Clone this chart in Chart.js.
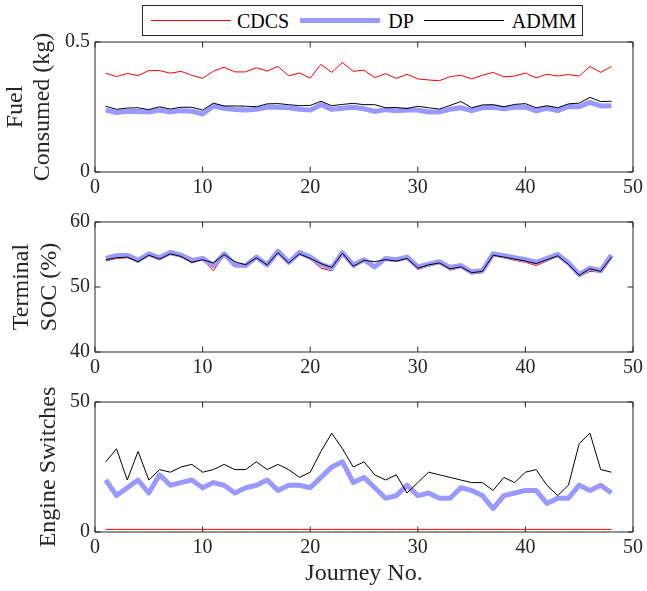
<!DOCTYPE html>
<html>
<head>
<meta charset="utf-8">
<script src="https://cdn.jsdelivr.net/npm/chart.js@4.4.1/dist/chart.umd.min.js"></script>
<style>
  body { margin: 0; background: #fff; width: 647px; height: 591px; position: relative; overflow: hidden;
         font-family: 'Liberation Serif', serif; }
  canvas { position: absolute; left: 0; }
  #legend { position: absolute; left: 142px; top: 5px; width: 439px; height: 29px; border: 1px solid #262626;
            display: flex; align-items: center; font-size: 20px; color: #000; box-sizing: content-box; }
  #legend .ln { display: inline-block; width: 80px; }
  #legend span.tx { line-height: 20px; }
</style>
</head>
<body>
<div id="legend">
  <span class="ln" style="margin-left:8px;height:1px;background:#ff0000"></span>
  <span class="tx" style="margin-left:6px">CDCS</span>
  <span class="ln" style="margin-left:11px;height:5px;background:rgb(153,153,255)"></span>
  <span class="tx" style="margin-left:8px">DP</span>
  <span class="ln" style="margin-left:10px;height:1px;background:#000"></span>
  <span class="tx" style="margin-left:8px">ADMM</span>
</div>
<canvas id="fuel" width="647" height="200" style="top:0"></canvas>
<canvas id="soc" width="647" height="180" style="top:200px"></canvas>
<canvas id="sw" width="647" height="211" style="top:380px"></canvas>
<script>
var journeys = [];
for (var i = 1; i <= 48; i++) journeys.push(i);

// fuel consumed (kg)
var fuelCDCS = [0.380,0.367,0.379,0.371,0.390,0.390,0.380,0.387,0.372,0.360,0.388,0.403,0.385,0.385,0.401,0.388,
                0.406,0.370,0.381,0.361,0.414,0.383,0.421,0.387,0.392,0.363,0.378,0.360,0.376,0.358,0.354,0.351,
                0.367,0.372,0.358,0.372,0.383,0.366,0.369,0.381,0.362,0.376,0.369,0.375,0.369,0.406,0.383,0.406];
var fuelDP   = [0.238,0.229,0.234,0.233,0.231,0.238,0.231,0.236,0.234,0.223,0.254,0.245,0.240,0.238,0.241,0.249,
                0.249,0.247,0.241,0.238,0.259,0.241,0.245,0.249,0.243,0.233,0.240,0.236,0.238,0.238,0.231,0.231,
                0.241,0.247,0.236,0.247,0.249,0.243,0.249,0.250,0.235,0.245,0.236,0.252,0.251,0.268,0.254,0.255];
var fuelADMM = [0.253,0.241,0.246,0.247,0.240,0.251,0.242,0.249,0.249,0.238,0.265,0.254,0.254,0.253,0.251,0.262,
                0.263,0.259,0.255,0.256,0.272,0.255,0.260,0.264,0.259,0.259,0.247,0.248,0.244,0.253,0.247,0.242,
                0.256,0.271,0.247,0.258,0.259,0.251,0.260,0.263,0.247,0.255,0.247,0.262,0.265,0.287,0.271,0.272];

// terminal SOC (%)
var socCDCS = [54.0,54.4,54.5,53.8,54.8,54.2,55.0,54.6,53.7,54.2,52.5,54.9,53.1,53.2,54.5,53.3,
               55.2,53.6,55.0,54.3,52.9,52.5,55.1,53.0,54.0,53.1,54.2,53.9,54.3,52.7,53.2,53.6,
               52.6,53.0,52.0,52.2,54.8,54.5,54.1,53.8,53.3,54.0,54.7,53.4,51.6,52.4,52.3,54.5];
var socDP   = [54.4,54.8,54.9,54.1,55.1,54.5,55.3,54.9,54.1,54.4,53.3,55.1,53.4,53.3,54.6,53.4,
               55.5,53.8,55.3,54.6,53.5,52.9,55.3,53.4,54.2,53.1,54.4,54.2,54.6,53.1,53.5,53.9,
               53.0,53.3,52.3,52.5,55.1,54.8,54.5,54.2,53.8,54.4,55.0,53.7,51.9,52.9,52.5,54.9];
var socADMM = [54.2,54.5,54.6,53.9,54.9,54.3,55.1,54.7,53.8,54.2,53.7,55.0,53.9,53.4,54.5,53.4,
               55.3,53.7,55.1,54.4,53.6,53.0,55.2,53.2,54.1,53.9,54.2,54.0,54.4,52.9,53.4,53.7,
               52.8,53.1,52.2,52.4,54.9,54.6,54.3,54.0,53.6,54.2,54.8,53.5,51.8,52.8,52.4,54.6];

// engine switches
var swCDCS = [1,1,1,1,1,1,1,1,1,1,1,1,1,1,1,1,1,1,1,1,1,1,1,1,1,1,1,1,1,1,1,1,1,1,1,1,1,1,1,1,1,1,1,1,1,1,1,1];
var swDP   = [20,14,17,20,15,22,18,19,20,17,19,18,15,17,18,20,16,18,18,17,21,25,27,19,
              21,17,13,14,18,14,15,13,13,17,16,14,9,14,15,16,16,11,13,13,18,16,18,15];
var swADMM = [27,32,20,31,20,24,23,25,26,23,24,26,24,24,27,24,26,24,21,23,31,38,32,25,
              27,22,20,22,15,19,23,22,21,20,19,19,16,21,19,23,24,18,14,18,34,38,24,23];

Chart.defaults.font.family = "'Liberation Serif', serif";
Chart.defaults.color = '#262626';

// matlab style box with inward ticks
var boxTicks = {
  id: 'boxTicks',
  afterDatasetsDraw: function(chart) {
    var ctx = chart.ctx, a = chart.chartArea, x = chart.scales.x, y = chart.scales.y;
    var tl = 5.4;
    ctx.save();
    ctx.strokeStyle = '#262626';
    ctx.lineWidth = 1;
    ctx.beginPath();
    x.ticks.forEach(function(t) {
      var px = x.getPixelForValue(t.value);
      ctx.moveTo(px, a.bottom); ctx.lineTo(px, a.bottom - tl);
      ctx.moveTo(px, a.top); ctx.lineTo(px, a.top + tl);
    });
    y.ticks.forEach(function(t) {
      var py = y.getPixelForValue(t.value);
      ctx.moveTo(a.left, py); ctx.lineTo(a.left + tl, py);
      ctx.moveTo(a.right, py); ctx.lineTo(a.right - tl, py);
    });
    ctx.rect(a.left, a.top, a.right - a.left, a.bottom - a.top);
    ctx.stroke();
    ctx.restore();
  }
};

function makeChart(id, cdcs, dp, admm, yMin, yMax, yStep, yTitle, titlePad, titleLH, padTop, xH, xTitle) {
  var ctx = document.getElementById(id).getContext('2d');
  return new Chart(ctx, {
    type: 'line',
    data: {
      labels: journeys,
      datasets: [
        { label: 'CDCS', data: cdcs, borderColor: '#ff0000', borderWidth: 1, order: 2 },
        { label: 'DP', data: dp, borderColor: 'rgb(153,153,255)', borderWidth: 5, order: 1 },
        { label: 'ADMM', data: admm, borderColor: '#000000', borderWidth: 1, order: 0 }
      ]
    },
    options: {
      responsive: false,
      animation: false,
      devicePixelRatio: 1,
      layout: { padding: { top: padTop, right: 10, left: 0, bottom: 0 } },
      elements: { point: { radius: 0 }, line: { tension: 0, borderJoinStyle: 'round' } },
      plugins: { legend: { display: false }, tooltip: { enabled: false } },
      scales: {
        x: {
          type: 'linear', min: 0, max: 50,
          grid: { display: false, drawTicks: false },
          border: { display: false },
          ticks: { stepSize: 10, padding: 4, font: { size: 20 }, maxRotation: 0 },
          title: { display: !!xTitle, text: xTitle, font: { size: 24, lineHeight: 1.1 }, padding: { bottom: 4, top: 0 }, color: '#262626' },
          afterFit: function(s) { s.height = xH; }
        },
        y: {
          min: yMin, max: yMax,
          grid: { display: false, drawTicks: false },
          border: { display: false },
          ticks: { stepSize: yStep, padding: 5, font: { size: 20 } },
          title: { display: true, text: yTitle, font: { size: 24, lineHeight: titleLH }, padding: { top: titlePad, bottom: 0 }, color: '#262626' },
          afterFit: function(s) { s.width = 95; }
        }
      }
    },
    plugins: [boxTicks]
  });
}

makeChart('fuel', fuelCDCS, fuelDP, fuelADMM, 0, 0.5, 0.5, ['Fuel', 'Consumed (kg)'], 3, 1.1, 42, 28, '');
makeChart('soc', socCDCS, socDP, socADMM, 40, 60, 10, ['Terminal', 'SOC (%)'], 8, 1.17, 22, 28, '');
makeChart('sw', swCDCS, swDP, swADMM, 0, 50, 50, 'Engine Switches', 36, 1.1, 22, 59, 'Journey No.');
</script>
</body>
</html>
